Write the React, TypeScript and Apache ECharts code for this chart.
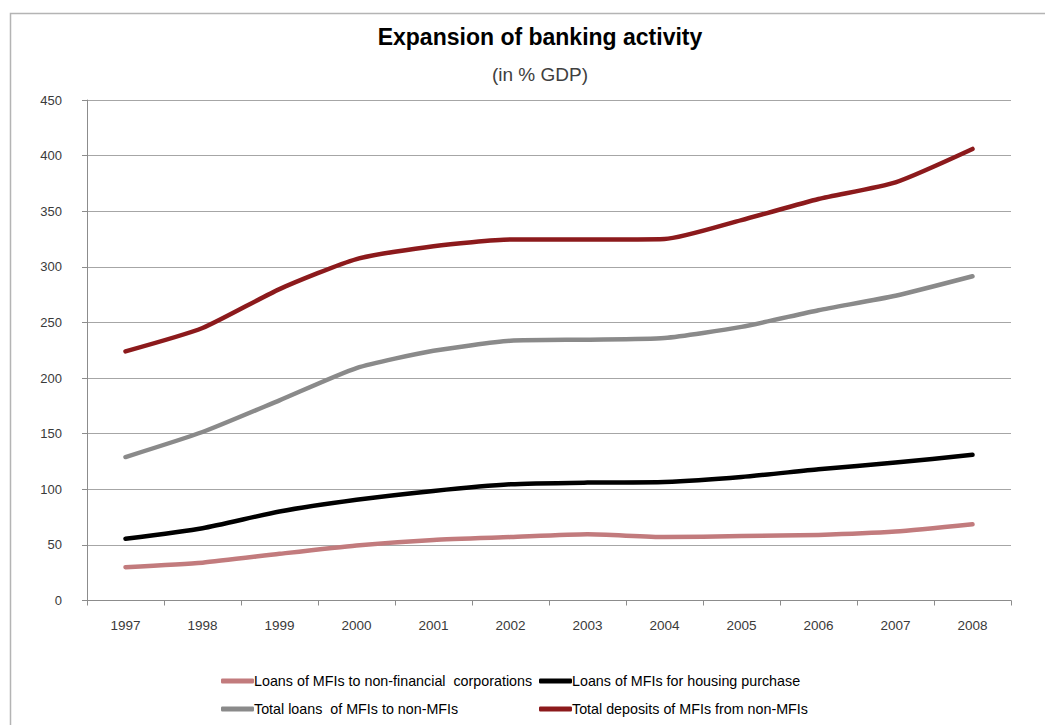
import React, { useEffect, useRef } from "react";
import * as echarts from "echarts";

const years = ["1997", "1998", "1999", "2000", "2001", "2002", "2003", "2004", "2005", "2006", "2007", "2008"];
const loansNonFinCorp = [30, 34, 42, 49.5, 54.5, 57, 59.5, 57, 58, 59, 62, 68.5];
const loansHousing = [55.5, 65, 80, 90.5, 98.5, 104.5, 106, 106.5, 111, 118, 124, 131];
const totalLoans = [129, 151.5, 180, 209, 224.5, 233.5, 234.5, 236, 246, 261, 274, 291.5];
const totalDeposits = [224, 245, 280, 307, 318.5, 324.5, 324.5, 325, 342, 361, 376, 406];

const names = [
  "Loans of MFIs to non-financial  corporations",
  "Loans of MFIs for housing purchase",
  "Total loans  of MFIs to non-MFIs",
  "Total deposits of MFIs from non-MFIs",
];
const colors = ["#c27b7d", "#000000", "#8a8a8a", "#8c1a1c"];

const FONT = "'Liberation Sans', Arial, sans-serif";

export default function App() {
  const ref = useRef<HTMLDivElement>(null);
  useEffect(() => {
    if (!ref.current) return;
    const chart = echarts.init(ref.current, null, { renderer: "svg" });
    const seriesData = [loansNonFinCorp, loansHousing, totalLoans, totalDeposits];
    const legendPos = [
      { left: 216, top: 669 },
      { left: 534, top: 669 },
      { left: 216, top: 697 },
      { left: 534, top: 697 },
    ];
    chart.setOption({
      animation: false,
      backgroundColor: "#ffffff",
      textStyle: { fontFamily: FONT },
      title: [
        {
          text: "Expansion of banking activity",
          left: 535,
          top: 20,
          textAlign: "center",
          textStyle: { fontSize: 23, fontWeight: "bold", color: "#000000", fontFamily: FONT },
        },
        {
          text: "(in % GDP)",
          left: 535,
          top: 60,
          textAlign: "center",
          textStyle: { fontSize: 19, fontWeight: "normal", color: "#404040", fontFamily: FONT },
        },
      ],
      graphic: [
        {
          type: "rect",
          shape: { x: 10.5, y: 13.5, width: 1100, height: 800 },
          style: { fill: "none", stroke: "#b4b4b4", lineWidth: 1.5 },
          silent: true,
        },
      ],
      legend: names.map((n, i) => ({
        data: [n],
        left: legendPos[i].left,
        top: legendPos[i].top,
        icon: "roundRect",
        itemWidth: 33,
        itemHeight: 5,
        itemGap: 2,
        textStyle: { fontSize: 14.3, color: "#000000", fontFamily: FONT, padding: [0, 0, 0, -5] },
      })),
      grid: { left: 87, right: 34, top: 100, bottom: 124.5, containLabel: false },
      xAxis: {
        type: "category",
        data: years,
        boundaryGap: true,
        axisLine: { lineStyle: { color: "#8c8c8c", width: 1 } },
        axisTick: { show: true, length: 5, alignWithLabel: false, lineStyle: { color: "#8c8c8c" } },
        axisLabel: { color: "#3a3a3a", fontSize: 13.5, margin: 18, fontFamily: FONT },
        splitLine: { show: false },
      },
      yAxis: {
        type: "value",
        min: 0,
        max: 450,
        interval: 50,
        axisLine: { show: true, lineStyle: { color: "#8c8c8c", width: 1 } },
        axisTick: { show: true, length: 5, lineStyle: { color: "#8c8c8c" } },
        axisLabel: { color: "#3a3a3a", fontSize: 13, margin: 25, fontFamily: FONT },
        splitLine: { show: true, lineStyle: { color: "#a6a6a6", width: 1 } },
      },
      series: names.map((n, i) => ({
        name: n,
        type: "line",
        data: seriesData[i],
        smooth: 0.2,
        showSymbol: false,
        symbol: "none",
        color: colors[i],
        lineStyle: { color: colors[i], width: 4.5, cap: "round", join: "round" },
      })),
    });
    return () => chart.dispose();
  }, []);
  return (
    <div
      ref={ref}
      style={{ position: "fixed", left: 0, top: 0, width: 1045, height: 725, background: "#fff" }}
    />
  );
}
